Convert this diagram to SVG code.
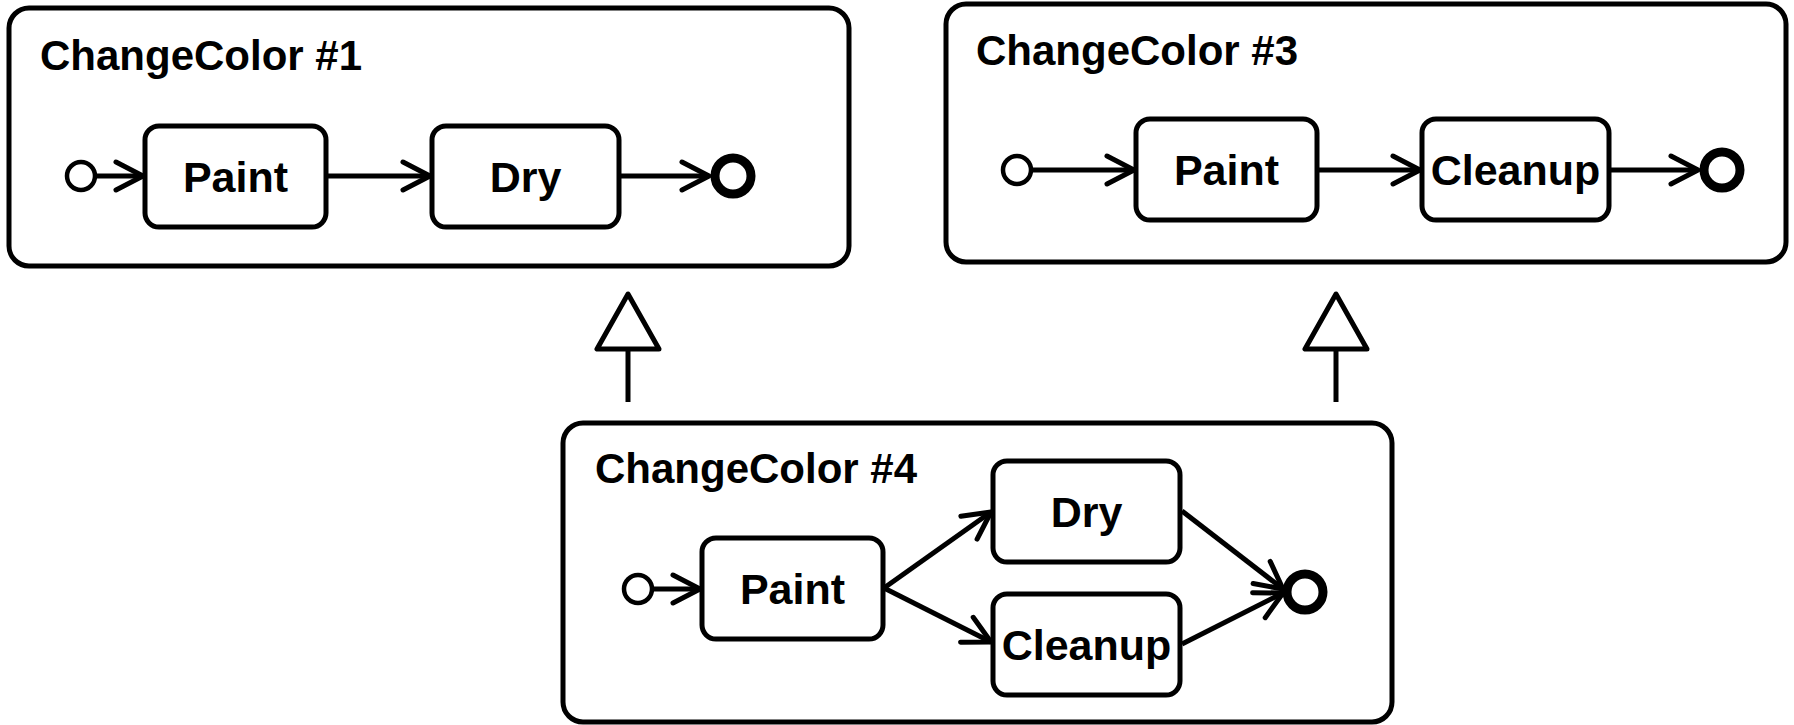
<svg xmlns="http://www.w3.org/2000/svg" width="1794" height="725" viewBox="0 0 1794 725">
<defs>
<marker id="open" markerUnits="userSpaceOnUse" markerWidth="40" markerHeight="40" refX="28" refY="15" orient="auto" overflow="visible">
<path d="M1,1 L28,15 L1,29" fill="none" stroke="#000" stroke-width="5" stroke-linecap="round" stroke-linejoin="round"/>
</marker>
</defs>
<style>
.frame{fill:#fff;stroke:#000;stroke-width:5}
.node{fill:#fff;stroke:#000;stroke-width:5}
.init{fill:#fff;stroke:#000;stroke-width:4.5}
.final{fill:#fff;stroke:#000;stroke-width:9}
.title{font-family:"Liberation Sans",Arial,sans-serif;font-weight:bold;font-size:42px;fill:#000}
.lbl{font-family:"Liberation Sans",Arial,sans-serif;font-weight:bold;font-size:43px;fill:#000;text-anchor:middle}
.edge{fill:none;stroke:#000;stroke-width:5;marker-end:url(#open)}
.gen{fill:none;stroke:#000;stroke-width:5}
.tri{fill:#fff;stroke:#000;stroke-width:5;stroke-linejoin:round}
</style>

<g id="cc1">
<rect class="frame" x="9" y="8" width="840" height="258" rx="20"/>
<text class="title" x="40" y="70">ChangeColor #1</text>
</g>
<g id="cc1-init"><circle class="init" cx="81" cy="176" r="14"/></g>
<g id="cc1-paint"><rect class="node" x="145" y="126" width="181" height="101" rx="14"/><text class="lbl" x="235.5" y="192">Paint</text></g>
<g id="cc1-dry"><rect class="node" x="432" y="126" width="187" height="101" rx="14"/><text class="lbl" x="525.5" y="192">Dry</text></g>
<g id="cc1-final"><circle class="final" cx="733" cy="176" r="18"/></g>

<g id="cc3">
<rect class="frame" x="946" y="4" width="840" height="258" rx="20"/>
<text class="title" x="976" y="65">ChangeColor #3</text>
</g>
<g id="cc3-init"><circle class="init" cx="1017" cy="170" r="14"/></g>
<g id="cc3-paint"><rect class="node" x="1136" y="119" width="181" height="101" rx="14"/><text class="lbl" x="1226.5" y="185">Paint</text></g>
<g id="cc3-cleanup"><rect class="node" x="1422" y="119" width="187" height="101" rx="14"/><text class="lbl" x="1515.5" y="185">Cleanup</text></g>
<g id="cc3-final"><circle class="final" cx="1722" cy="170" r="18"/></g>

<g id="cc4">
<rect class="frame" x="563" y="423" width="829" height="299" rx="20"/>
<text class="title" x="595" y="483">ChangeColor #4</text>
</g>
<g id="cc4-init"><circle class="init" cx="638" cy="589" r="14"/></g>
<g id="cc4-paint"><rect class="node" x="702" y="538" width="181" height="101" rx="14"/><text class="lbl" x="792.5" y="604">Paint</text></g>
<g id="cc4-dry"><rect class="node" x="993" y="461" width="187" height="101" rx="14"/><text class="lbl" x="1086.5" y="527">Dry</text></g>
<g id="cc4-cleanup"><rect class="node" x="993" y="594" width="187" height="101" rx="14"/><text class="lbl" x="1086.5" y="660">Cleanup</text></g>
<g id="cc4-final"><circle class="final" cx="1305" cy="592" r="18"/></g>

<g id="connectors">
<line class="edge" x1="95" y1="176" x2="143" y2="176"/>
<line class="edge" x1="328" y1="176" x2="430" y2="176"/>
<line class="edge" x1="621" y1="176" x2="709" y2="176"/>

<line class="edge" x1="1031" y1="170" x2="1134" y2="170"/>
<line class="edge" x1="1319" y1="170" x2="1420" y2="170"/>
<line class="edge" x1="1611" y1="170" x2="1698" y2="170"/>

<line class="edge" x1="652" y1="589" x2="700" y2="589"/>
<line class="edge" x1="884" y1="588" x2="991" y2="512"/>
<line class="edge" x1="884" y1="588" x2="991" y2="642"/>
<line class="edge" x1="1182" y1="511" x2="1283" y2="589"/>
<line class="edge" x1="1182" y1="644" x2="1283" y2="593"/>

<line class="gen" x1="628" y1="402" x2="628" y2="349"/>
<polygon class="tri" points="628,294 597,349 659,349"/>
<line class="gen" x1="1336" y1="402" x2="1336" y2="349"/>
<polygon class="tri" points="1336,294 1305,349 1367,349"/>
</g>
</svg>
